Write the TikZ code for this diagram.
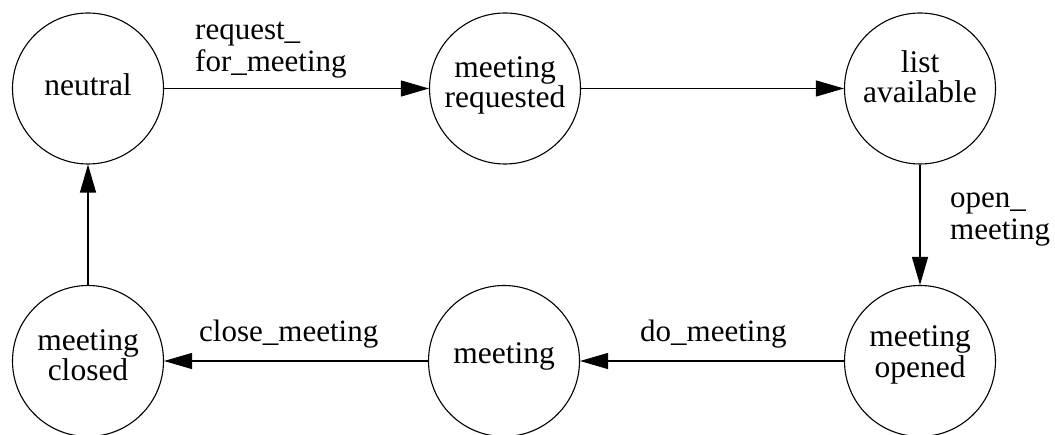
\documentclass[tikz,border=0pt]{standalone}
\usepackage{fontspec}
\setmainfont{Liberation Serif}
\usetikzlibrary{arrows.meta}
\begin{document}
\begin{tikzpicture}[x=1pt,y=-1pt,
  state/.style={circle,draw,line width=1.1pt,minimum size=151pt,inner sep=0pt,align=center,
    font=\fontsize{31.5}{30.5}\selectfont,text depth=0pt},
  trans/.style={line width=1.1pt,-{Triangle[length=28pt,width=16pt]}},
  lbl/.style={inner sep=0pt,align=left,font=\fontsize{31}{32}\selectfont,anchor=base west}]
\useasboundingbox (0,0) rectangle (1055,435);
\node[state,text height=14pt] (neutral) at (88,88.5) {neutral};
\node[state,text height=39pt] (mreq) at (505,88.5) {meeting\\requested};
\node[state,text height=28.5pt] (list) at (920,88.5) {list\\available};
\node[state,text height=40pt] (closed) at (88,361) {meeting\\closed};
\node[state,text height=5pt] (meet) at (504,361) {meeting};
\node[state,text height=33pt] (opened) at (920,361) {meeting\\opened};
\draw[trans] (neutral) -- (mreq);
\draw[trans] (mreq) -- (list);
\draw[trans] (list) -- (opened);
\draw[trans] (opened) -- (meet);
\draw[trans] (meet) -- (closed);
\draw[trans] (closed) -- (neutral);
\node[lbl] (l1) at (195,72) {request\_\\for\_meeting};
\node[lbl] (l2) at (950,240) {open\_\\meeting};
\node[lbl] (l3) at (199,342) {close\_meeting};
\node[lbl] (l4) at (640,342) {do\_meeting};
\end{tikzpicture}
\end{document}
